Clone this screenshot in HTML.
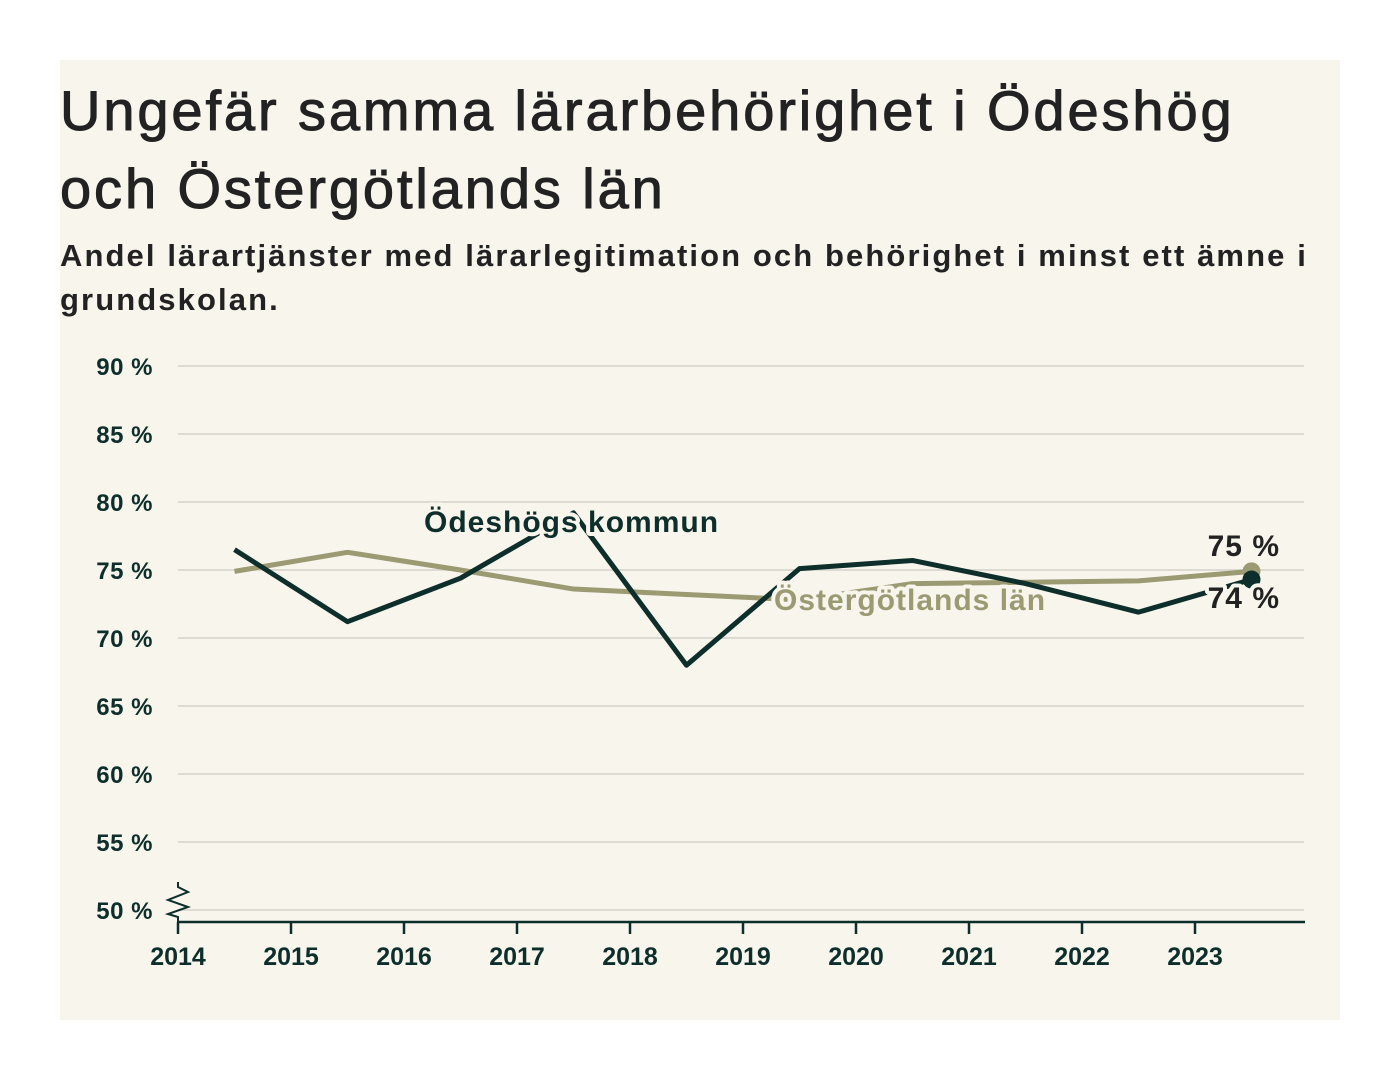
<!DOCTYPE html>
<html><head><meta charset="utf-8"><style>
body{margin:0;background:#fff;width:1400px;height:1080px;overflow:hidden;font-family:"Liberation Sans",sans-serif}
#panel{position:absolute;left:60px;top:60px;width:1280px;height:960px;background:#f7f5ec}
h1{position:absolute;left:0;top:12px;margin:0;font-size:56px;line-height:78px;font-weight:normal;color:#222;white-space:nowrap;letter-spacing:2.9px;-webkit-text-stroke:1px #222}
h2{position:absolute;left:0;top:174px;margin:0;font-size:31px;line-height:44px;font-weight:bold;color:#222;white-space:nowrap;letter-spacing:2.1px}
svg{position:absolute;left:0;top:0}
</style></head><body>
<div id="panel">
<h1>Ungefär samma lärarbehörighet i Ödeshög<br>och Östergötlands län</h1>
<h2>Andel lärartjänster med lärarlegitimation och behörighet i minst ett ämne i<br>grundskolan.</h2>
</div>
<svg id="chart" width="1400" height="1080"></svg>
<script>
const years=[2014,2015,2016,2017,2018,2019,2020,2021,2022,2023];
const yTicks=[50,55,60,65,70,75,80,85,90];
const pointYears=[2014.5,2015.5,2016.5,2017.5,2018.5,2019.5,2020.5,2021.5,2022.5,2023.5];
const odeshog=[76.5,71.2,74.4,79.2,68.0,75.1,75.7,74.0,71.9,74.3];
const ostergotland=[74.9,76.3,75.0,73.6,73.2,72.8,74.0,74.1,74.2,74.9];
const NS="http://www.w3.org/2000/svg";
const svg=document.getElementById('chart');
const x=v=>178+(v-2014)*113.0;
const y=v=>910-(v-50)*13.6;
function mk(t,a,p){const e=document.createElementNS(NS,t);for(const k in a)e.setAttribute(k,a[k]);(p||svg).appendChild(e);return e;}
yTicks.forEach(t=>{
 const g=mk('line',{x1:178,x2:1304,y1:y(t),y2:y(t),stroke:'#dcdad3','stroke-width':2});
 
 
 const l=mk('text',{x:153,y:y(t)+9,'text-anchor':'end','font-size':24,'font-weight':'bold',fill:'#0d2e2a','letter-spacing':0.5});
 l.textContent=t+' %';
 
 
});
const ax=mk('line',{x1:178,x2:1305,y1:922,y2:922,stroke:'#0d2e2a','stroke-width':2.5});


const zz=mk('polyline',{points:'178,882 178,887 188,892 168,900 188,907 168,914 178,917 178,922',fill:'none',stroke:'#0d2e2a','stroke-width':2});


years.forEach(yr=>{
 mk('line',{x1:x(yr),x2:x(yr),y1:922,y2:934,stroke:'#0d2e2a','stroke-width':2.5});
 const l=mk('text',{x:x(yr),y:965,'text-anchor':'middle','font-size':25,'font-weight':'bold',fill:'#0d2e2a'});
 l.textContent=yr;
 
 
});
function line(vals,col,name){
 const p=mk('polyline',{points:vals.map((v,i)=>x(pointYears[i])+','+y(v)).join(' '),fill:'none',stroke:col,'stroke-width':5,'stroke-linejoin':'round'});
 
 
 const n=vals.length-1;
 const c=mk('circle',{cx:x(pointYears[n]),cy:y(vals[n]),r:9,fill:col});
 
 
}
line(ostergotland,'#9c9a72','ostergotland-line');
line(odeshog,'#0d2e2a','odeshog-line');
function label(tx,xx,yy,col,name,anchor){
 const t=mk('text',{x:xx,y:yy,'font-size':30,'font-weight':'bold',fill:col,stroke:'#f7f5ec','stroke-width':8,'paint-order':'stroke','stroke-linejoin':'round','text-anchor':anchor||'start','letter-spacing':1});
 t.textContent=tx;
 
 
}
label('Ödeshögs kommun',424,532,'#0d2e2a','odeshog-label');
label('Östergötlands län',774,610,'#9c9a72','ostergotland-label');
label(Math.round(ostergotland[9])+' %',1280,556,'#222','ostergotland-end-value','end');
label(Math.round(odeshog[9])+' %',1280,608,'#222','odeshog-end-value','end');
</script>
</body></html>
